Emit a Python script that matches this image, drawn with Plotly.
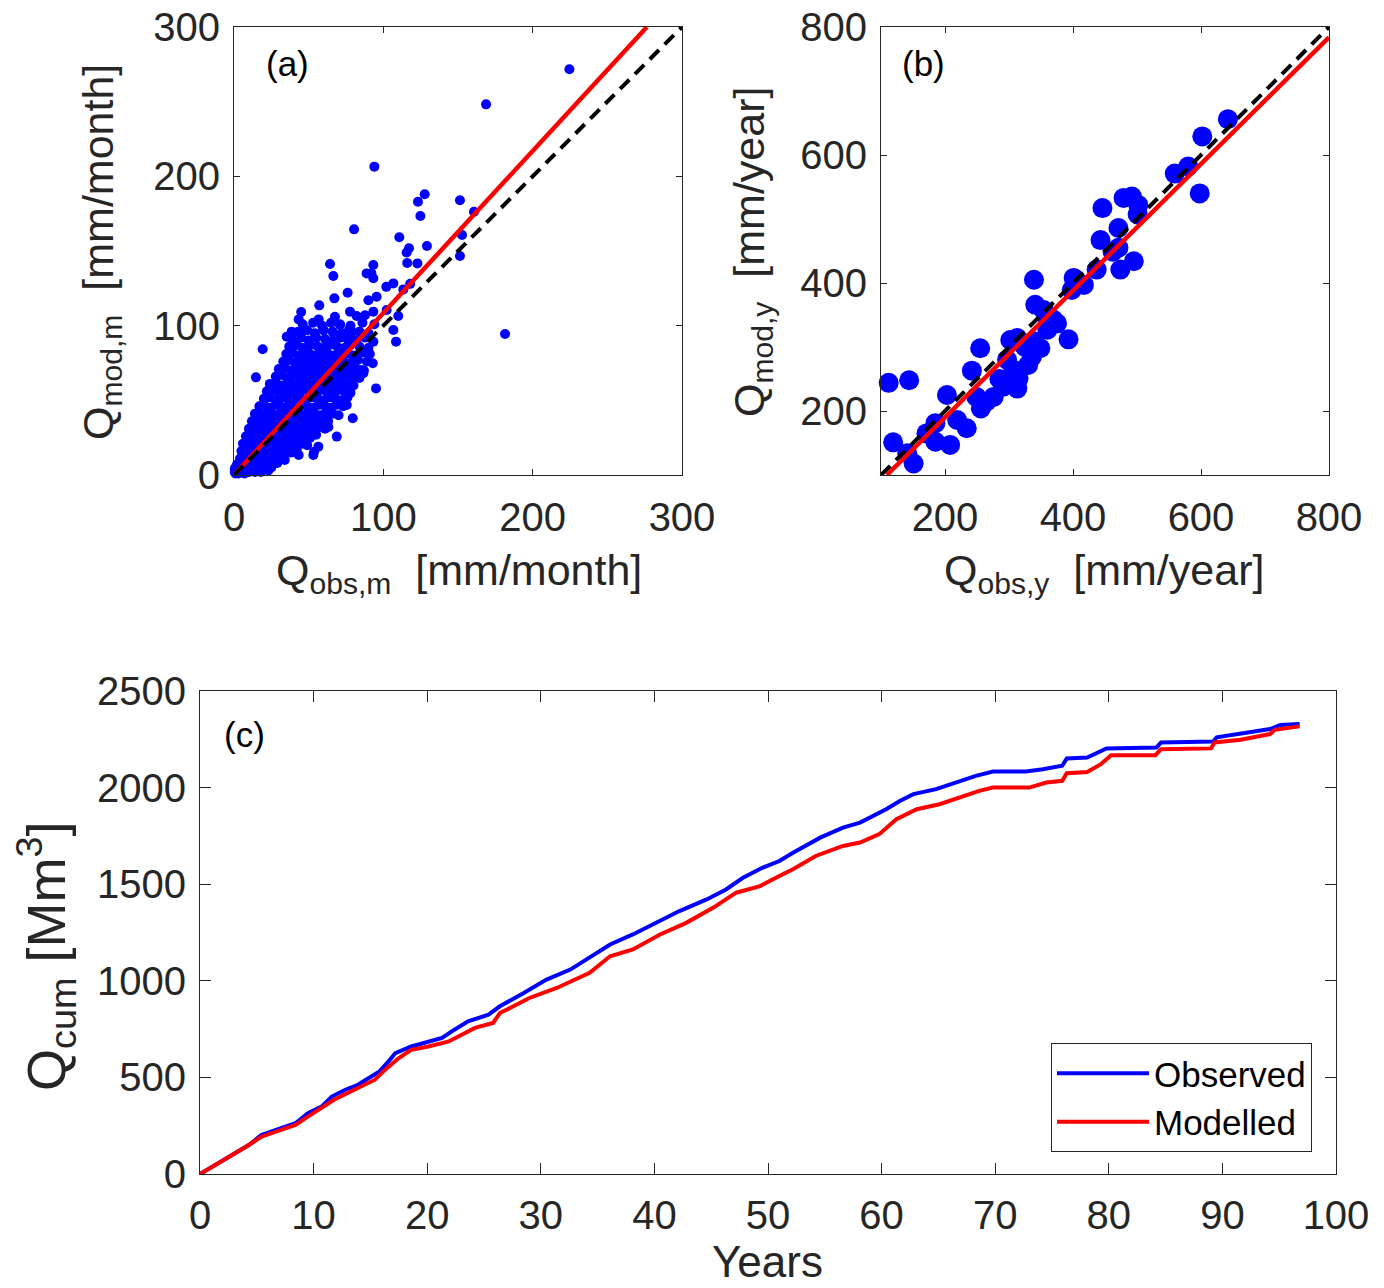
import plotly.graph_objects as go

# ---------------- DATA ----------------
# Panel (a): monthly observed vs modelled discharge [mm/month]
obs_m = [
    0.5, 1, 2, 0.5, 1, 2, 3, 4, 5, 6, 7, 8, 10, 12, 14, 16, 18, 20, 23, 25,
    2, 4, 7, 10, 13, 16, 19, 22, 26, 29,
    4, 7, 10, 13, 16, 19, 22, 25, 28, 31, 34,
    5, 8, 11, 14, 17, 20, 23, 26, 29, 32, 35, 38, 42,
    6, 9, 12, 15, 18, 21, 24, 27, 30, 33, 36, 39, 42, 46, 49,
    8, 11, 14, 17, 20, 23, 26, 29, 32, 35, 38, 41, 44, 47, 51, 55,
    10, 13, 16, 19, 22, 25, 28, 31, 34, 37, 40, 43, 46, 49, 53, 57, 61,
    12, 15, 18, 21, 24, 27, 30, 33, 36, 39, 42, 45, 48, 51, 55, 59, 63,
    14, 17, 20, 23, 26, 29, 32, 35, 38, 41, 44, 47, 50, 54, 58, 62, 66, 70,
    17, 20, 24, 28, 31, 34, 37, 40, 43, 46, 49, 53, 57, 61, 65, 69, 73,
    20, 24, 28, 32, 36, 39, 42, 45, 48, 52, 56, 60, 64, 68, 72, 76,
    22, 26, 30, 34, 38, 42, 46, 50, 54, 58, 62, 66, 70, 74, 78,
    24, 28, 32, 36, 40, 44, 48, 52, 56, 60, 64, 68, 72, 76, 80,
    28, 32, 36, 40, 44, 48, 52, 56, 60, 64, 68, 72, 76, 80, 84,
    30, 34, 38, 42, 46, 50, 54, 58, 62, 66, 70, 74, 78, 82, 87,
    33, 37, 41, 45, 49, 53, 57, 61, 65, 69, 73, 78, 83, 89,
    35, 39, 43, 47, 51, 55, 59, 63, 67, 71, 75, 80, 86, 91,
    37, 42, 46, 51, 56, 60, 64, 69, 74, 78, 84, 90,
    39, 45, 50, 55, 61, 66, 71, 76, 82, 88,
    43, 49, 54, 60, 66, 72, 77, 84, 90,
    46, 53, 59, 65, 71, 78, 86, 94,
    224.6, 168.8, 94, 181.5, 151.3, 127.7, 123.2, 124.8, 160.7, 80.4,
    110.7, 117.2, 129.2, 115.6, 152.7, 151.3, 116, 122.8, 93.3, 64.3,
    66.5, 88.8, 93.3, 106.7, 113.4, 102, 95.5, 90, 76.1, 67.2,
    57.1, 45, 43.3, 56.7, 67.6, 77.7, 82.1, 87.7, 93.3, 102.2,
    110, 106.7, 108.5, 95.1, 79.5, 68.8, 53.6, 43.3, 19.2, 14.7,
    59.8, 71, 38.6, 35.3, 78.8, 79.9, 89.9, 92.9, 86.6, 93.3,
    118, 92, 85.5, 78.8, 75.5, 56.5, 63.2, 53.1,
]
mod_m = [
    2, 5, 7, 4, 1, 3, 1, 2, 4, 2, 1, 3, 2, 4, 2, 3, 2, 4, 3, 5,
    6, 7, 6, 7, 6, 7, 6, 8, 7, 8,
    11, 12, 10, 12, 11, 12, 10, 12, 11, 12, 10,
    16, 17, 15, 17, 16, 15, 17, 16, 15, 17, 16, 15, 17,
    21, 22, 20, 22, 21, 20, 22, 21, 20, 22, 21, 20, 22, 21, 20,
    26, 27, 25, 27, 26, 25, 27, 26, 25, 27, 26, 25, 27, 26, 25, 27,
    31, 32, 30, 32, 31, 30, 32, 31, 30, 32, 31, 30, 32, 31, 30, 32, 31,
    36, 37, 35, 37, 36, 35, 37, 36, 35, 37, 36, 35, 37, 36, 35, 37, 36,
    41, 42, 40, 42, 41, 40, 42, 41, 40, 42, 41, 40, 42, 41, 40, 42, 41, 40,
    46, 47, 45, 47, 46, 45, 47, 46, 45, 47, 46, 45, 47, 46, 45, 47, 46,
    51, 52, 50, 52, 51, 50, 52, 51, 50, 52, 51, 50, 52, 51, 50, 52,
    56, 57, 55, 57, 56, 55, 57, 56, 55, 57, 56, 55, 57, 56, 55,
    61, 62, 60, 62, 61, 60, 62, 61, 60, 62, 61, 60, 62, 61, 60,
    66, 67, 65, 67, 66, 65, 67, 66, 65, 67, 66, 65, 67, 66, 65,
    71, 72, 70, 72, 71, 70, 72, 71, 70, 72, 71, 70, 72, 71, 70,
    76, 77, 75, 77, 76, 75, 77, 76, 75, 77, 76, 75, 77, 76,
    81, 82, 80, 82, 81, 80, 82, 81, 80, 82, 81, 80, 82, 81,
    86, 87, 85, 87, 86, 85, 87, 86, 85, 87, 86, 85,
    91, 92, 90, 92, 91, 90, 92, 91, 90, 92,
    96, 97, 95, 97, 96, 95, 97, 96, 95,
    101, 102, 100, 102, 101, 100, 102, 101,
    271.7, 248.2, 206.5, 94.4, 184, 188, 183, 173.4, 176.3, 164.5,
    159.2, 151.8, 153.3, 149, 160.7, 146.7, 142, 141.7, 140.6, 141.3,
    133.3, 135, 131.7, 128.3, 124.3, 126, 119.4, 117, 122, 118.3,
    113.6, 109.2, 104.2, 104.2, 106, 109.4, 106.5, 107, 109.4, 110.5,
    106.5, 97.1, 89.3, 58, 38, 25.7, 15.6, 13.4, 84.2, 65.4,
    97.1, 100.4, 96, 92.6, 96, 90.4, 81.5, 74.8, 68.1, 89.3,
    128, 135, 70.3, 60.3, 46.9, 19, 32.1, 13.4,
]
fit_a_slope, fit_a_intercept, fit_a_xmax = 1.085, 0.0, 276.5

# Panel (b): annual observed vs modelled discharge [mm/year]
obs_y = [112, 144, 119, 151, 141, 171, 185, 185, 208, 203, 219, 234, 242, 255,
         256, 249, 276, 291, 297, 302, 313, 313, 315, 307, 336, 339, 341, 339,
         354, 349, 360, 369, 375, 393, 398, 401, 417, 437, 443, 446, 462, 471,
         474, 471, 495, 479, 492, 502, 501, 559, 580, 598, 602, 642, 325, 285,
         330, 360, 265]
mod_y = [244, 248, 151, 118, 134, 165, 181, 152, 147, 225, 186, 173, 263, 298,
         204, 222, 222, 238, 280, 311, 314, 235, 251, 264, 285, 309, 366, 405,
         358, 298, 327, 343, 337, 312, 389, 408, 397, 421, 467, 517, 449, 486,
         421, 455, 434, 533, 535, 522, 507, 571, 582, 540, 629, 656, 300, 250,
         272, 345, 215]
fit_b_slope, fit_b_intercept = 0.99, -8.0

# Panel (c): cumulative discharge [Mm^3]
years_obs = [0, 2.5, 4.3, 5.4, 7.2, 8.4, 9.5, 10.7, 11.6, 12.8, 13.9, 14.8, 15.8,
             16.6, 17.2, 18.6, 20.1, 21.3, 22.4, 23.6, 25.4, 26.4, 28.5, 30.5,
             32.6, 34.3, 36.1, 38.1, 40.2, 42.2, 44.6, 46.3, 47.8, 49.5, 51.0,
             52.2, 54.6, 56.6, 58.1, 60.4, 61.6, 62.8, 64.8, 66.9, 68.3, 69.8,
             72.7, 74.2, 75.9, 76.3, 78.1, 79.8, 84.2, 84.6, 89.2, 89.5, 91.6,
             94.2, 95.1, 96.8]
q_obs = [0, 90, 150, 202, 237, 263, 315, 349, 401, 436, 462, 496, 531, 583, 626,
         660, 686, 704, 747, 790, 825, 868, 937, 1006, 1058, 1119, 1188, 1240,
         1300, 1361, 1421, 1473, 1533, 1585, 1620, 1663, 1741, 1793, 1819, 1888,
         1931, 1966, 1992, 2035, 2061, 2083, 2083, 2095, 2113, 2151, 2156, 2203,
         2208, 2234, 2238, 2260, 2277, 2303, 2324, 2329]
years_mod = [0, 2.5, 4.3, 5.4, 8.4, 9.5, 10.7, 11.8, 13.9, 15.4, 16.3, 17.5, 18.6,
             20.1, 21.9, 23.0, 24.2, 25.8, 26.4, 29.0, 31.4, 34.3, 36.1, 38.1,
             40.5, 42.8, 45.2, 47.2, 49.3, 51.0, 52.2, 54.2, 56.6, 58.1, 59.8,
             61.3, 63.1, 65.1, 66.9, 68.6, 69.8, 73.0, 74.5, 75.9, 76.3, 78.1,
             79.3, 80.2, 84.1, 84.6, 89.0, 89.3, 91.6, 94.2, 94.6, 96.8]
q_mod = [0, 85, 150, 193, 254, 297, 341, 384, 445, 488, 540, 600, 643, 660, 686,
         721, 756, 782, 833, 911, 963, 1041, 1127, 1162, 1240, 1300, 1379, 1456,
         1490, 1542, 1577, 1646, 1698, 1716, 1759, 1836, 1888, 1914, 1949, 1983,
         2000, 2000, 2026, 2035, 2074, 2081, 2121, 2168, 2168, 2199, 2203, 2234,
         2248, 2277, 2299, 2317]

ticks_a = [0, 100, 200, 300]
ticks_b = [200, 400, 600, 800]
ticks_c_x = [0, 10, 20, 30, 40, 50, 60, 70, 80, 90, 100]
ticks_c_y = [0, 500, 1000, 1500, 2000, 2500]

# ---------------- FIGURE ----------------
W, H = 1384, 1288
FONT = "Liberation Sans, Arial, Helvetica, sans-serif"
DARK = "#262626"
BLUE, RED = "#0000FF", "#FF0000"


def xdom(left, right):
    return [left / W, right / W]


def ydom(top, bottom):
    return [1 - bottom / H, 1 - top / H]


fig = go.Figure()

# (a)
fig.add_trace(go.Scatter(x=obs_m, y=mod_m, mode="markers", xaxis="x", yaxis="y",
                         marker=dict(color=BLUE, size=10, line=dict(width=0)),
                         cliponaxis=False, showlegend=False))
fa_x = [0, fit_a_xmax]
fig.add_trace(go.Scatter(x=fa_x, y=[fit_a_slope * v + fit_a_intercept for v in fa_x],
                         mode="lines", xaxis="x", yaxis="y",
                         line=dict(color=RED, width=4.5), showlegend=False))
fig.add_trace(go.Scatter(x=[ticks_a[0], ticks_a[-1]], y=[ticks_a[0], ticks_a[-1]],
                         mode="lines", xaxis="x", yaxis="y",
                         line=dict(color="black", width=4, dash="13px,8px"),
                         showlegend=False))

# (b)
fig.add_trace(go.Scatter(x=obs_y, y=mod_y, mode="markers", xaxis="x2", yaxis="y2",
                         marker=dict(color=BLUE, size=20, line=dict(width=0)),
                         cliponaxis=False, showlegend=False))
fb_x0 = (100 - fit_b_intercept) / fit_b_slope
fb_x = [fb_x0, 800]
fig.add_trace(go.Scatter(x=fb_x, y=[fit_b_slope * v + fit_b_intercept for v in fb_x],
                         mode="lines", xaxis="x2", yaxis="y2",
                         line=dict(color=RED, width=4.5), showlegend=False))
fig.add_trace(go.Scatter(x=[100, 800], y=[100, 800], mode="lines", xaxis="x2", yaxis="y2",
                         line=dict(color="black", width=4, dash="13px,8px"),
                         showlegend=False))

# (c)
fig.add_trace(go.Scatter(x=years_obs, y=q_obs, mode="lines", name="Observed",
                         xaxis="x3", yaxis="y3", line=dict(color=BLUE, width=4)))
fig.add_trace(go.Scatter(x=years_mod, y=q_mod, mode="lines", name="Modelled",
                         xaxis="x3", yaxis="y3", line=dict(color=RED, width=4)))

axis_common = dict(showline=True, linecolor=DARK, linewidth=1, mirror="ticks",
                   ticks="inside", tickcolor=DARK, tickwidth=1, showgrid=False,
                   zeroline=False, automargin=False,
                   tickfont=dict(size=40, color=DARK, family=FONT))

fig.update_layout(
    width=W, height=H, margin=dict(l=0, r=0, t=0, b=0), autosize=False,
    paper_bgcolor="white", plot_bgcolor="white",
    font=dict(family=FONT, color=DARK),
    xaxis=dict(domain=xdom(234, 682), range=[0, 300], tickvals=ticks_a, ticklen=6,
               anchor="y", ticklabelstandoff=7, **axis_common),
    yaxis=dict(domain=ydom(27, 475), range=[0, 300], tickvals=ticks_a, ticklen=6,
               anchor="x", ticklabelstandoff=5, **axis_common),
    xaxis2=dict(domain=xdom(881, 1329), range=[100, 800], tickvals=ticks_b, ticklen=6,
                anchor="y2", ticklabelstandoff=7, **axis_common),
    yaxis2=dict(domain=ydom(27, 475), range=[100, 800], tickvals=ticks_b, ticklen=6,
                anchor="x2", ticklabelstandoff=5, **axis_common),
    xaxis3=dict(domain=xdom(200, 1336), range=[0, 100], tickvals=ticks_c_x, ticklen=11,
                anchor="y3", ticklabelstandoff=6, **axis_common),
    yaxis3=dict(domain=ydom(691, 1174), range=[0, 2500], tickvals=ticks_c_y, ticklen=11,
                anchor="x3", ticklabelstandoff=5, **axis_common),
    legend=dict(x=1312 / W, y=1 - 1152 / H, xanchor="right", yanchor="bottom",
                bgcolor="white", bordercolor=DARK, borderwidth=1,
                font=dict(size=35, color="black", family=FONT),
                itemwidth=92, tracegroupgap=0),
)

annos = [
    dict(text="Q<sub>mod,m</sub>&nbsp;&nbsp;[mm/month]", x=101 / W, y=1 - 252 / H,
         textangle=-90, size=43, yanchor="middle"),
    dict(text="Q<sub>obs,m</sub>&nbsp;&nbsp;[mm/month]", x=459 / W, y=1 - 573 / H,
         textangle=0, size=43, yanchor="middle"),
    dict(text="Q<sub>mod,y</sub>&nbsp;&nbsp;[mm/year]", x=752 / W, y=1 - 252 / H,
         textangle=-90, size=43, yanchor="middle"),
    dict(text="Q<sub>obs,y</sub>&nbsp;&nbsp;[mm/year]", x=1104 / W, y=1 - 573 / H,
         textangle=0, size=43, yanchor="middle"),
    dict(text="Q<sub>cum</sub> [Mm<sup>3</sup>]", x=46 / W, y=1 - 957 / H,
         textangle=-90, size=54, yanchor="middle"),
    dict(text="Years", x=768 / W, y=0.0, textangle=0, size=44, yanchor="bottom"),
]
for a in annos:
    size = a.pop("size")
    fig.add_annotation(xref="paper", yref="paper", xanchor="center",
                       showarrow=False, font=dict(size=size, color=DARK, family=FONT), **a)

label_font = dict(size=35, color="black", family=FONT)
for txt, px, py in [("(a)", 287, 64), ("(b)", 923, 64), ("(c)", 244, 734)]:
    fig.add_annotation(text=txt, xref="paper", yref="paper", x=px / W, y=1 - py / H,
                       xanchor="center", yanchor="middle", showarrow=False, font=label_font)

fig.write_html(
    "out.html",
    config={"displayModeBar": False},
    post_script="document.body.style.margin='0';document.body.style.padding='0';"
                "document.documentElement.style.overflow='hidden';",
)
